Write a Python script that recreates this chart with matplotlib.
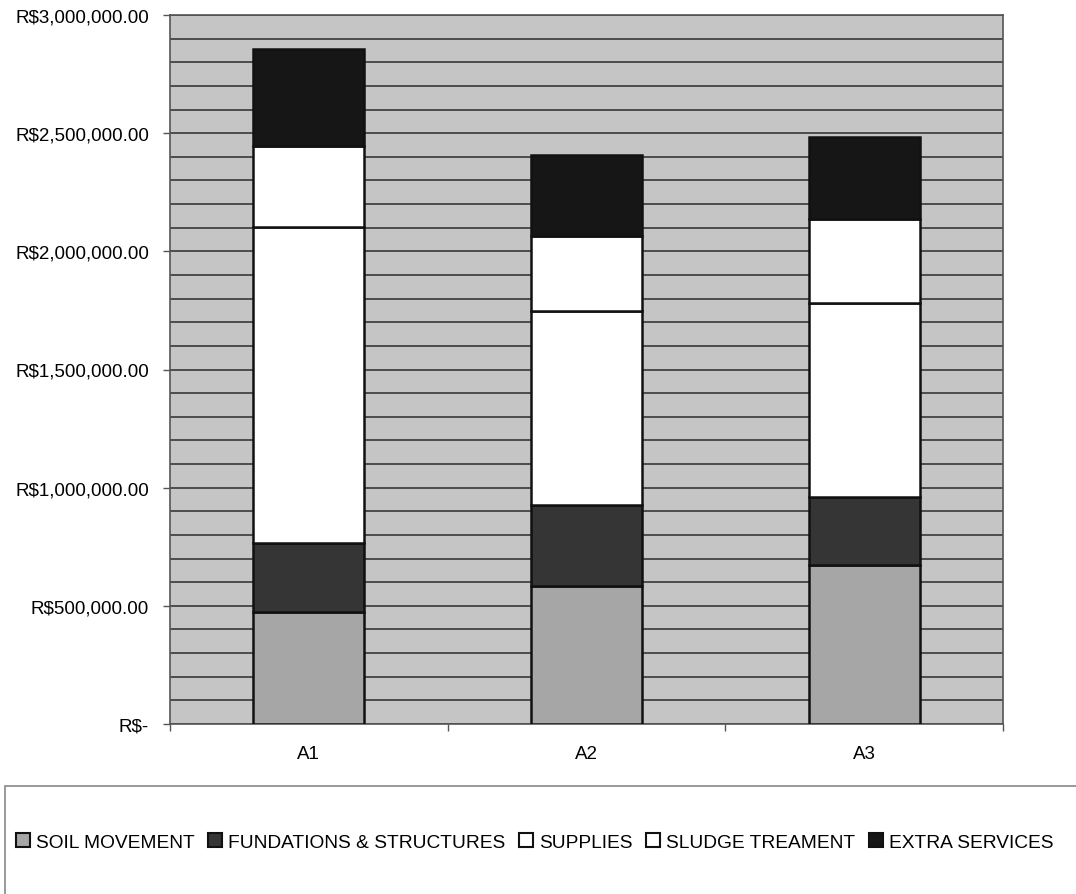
import matplotlib
matplotlib.use("Agg")
import matplotlib.pyplot as plt
import matplotlib.patches as mpatches
from matplotlib.ticker import FuncFormatter, MultipleLocator
import numpy as np

plt.rcParams['font.family'] = ['Liberation Sans', 'DejaVu Sans']

categories = ["A1", "A2", "A3"]
series_names = ["SOIL MOVEMENT", "FUNDATIONS & STRUCTURES", "SUPPLIES", "SLUDGE TREAMENT", "EXTRA SERVICES"]
soil = [474000, 583000, 674000]
fundations = [291000, 344000, 285000]
supplies = [1336000, 819000, 821000]
sludge = [345000, 318000, 357000]
extra = [411000, 344000, 346000]

series_values = [soil, fundations, supplies, sludge, extra]
colors = ["#a6a6a6", "#353535", "#ffffff", "#ffffff", "#161616"]

fig = plt.figure(figsize=(10.76, 8.95), dpi=100)
ax = fig.add_axes([170/1076, 1-725/895, (1003-170)/1076, (725-16)/895])
ax.set_facecolor("#c5c5c5")

x = np.arange(len(categories))
bottom = np.zeros(len(categories))
for name, vals, c in zip(series_names, series_values, colors):
    ax.bar(x, vals, width=0.4, bottom=bottom, color=c, edgecolor="#111111",
           linewidth=1.8, zorder=3, label=name)
    bottom += np.array(vals)

ax.set_xlim(-0.5, 2.5)
ax.set_ylim(0, 3000000)
ax.yaxis.set_major_locator(MultipleLocator(500000))
ax.yaxis.set_minor_locator(MultipleLocator(100000))
ax.grid(True, which='both', axis='y', color="#383838", linewidth=1.2, zorder=1)
ax.set_axisbelow(True)

def fmt(v, pos):
    if abs(v) < 1:
        return "R$-"
    return "R${:,.2f}".format(v)
ax.yaxis.set_major_formatter(FuncFormatter(fmt))
ax.tick_params(axis='y', which='major', length=5, width=1, pad=10, labelsize=13.5, color="#555555")
ax.tick_params(axis='y', which='minor', length=0)

ax.set_xticks(x)
ax.set_xticklabels(categories)
ax.set_xticks([-0.5, 0.5, 1.5, 2.5], minor=True)
ax.tick_params(axis='x', which='major', length=0, pad=15, labelsize=13.5)
ax.tick_params(axis='x', which='minor', length=5, width=1, color="#555555")

for s in ax.spines.values():
    s.set_color("#555555")
    s.set_linewidth(1.2)

# legend frame
rect = mpatches.Rectangle((5/1076, -0.1), 1.2, (895-787)/895 + 0.1, transform=fig.transFigure,
                          facecolor="white", edgecolor="#888888", linewidth=1.2, clip_on=False)
fig.add_artist(rect)

leg_handles = [mpatches.Patch(facecolor=c, edgecolor="#111111", linewidth=1.5) for c in colors]
leg = fig.legend(leg_handles, series_names, loc='center', bbox_to_anchor=(534.5/1076, 1-843/895),
                 ncol=5, frameon=False, fontsize=13.8, handlelength=0.75, handleheight=0.75,
                 handletextpad=0.3, columnspacing=0.7, borderaxespad=0)

fig.savefig("out.png", dpi=100)
